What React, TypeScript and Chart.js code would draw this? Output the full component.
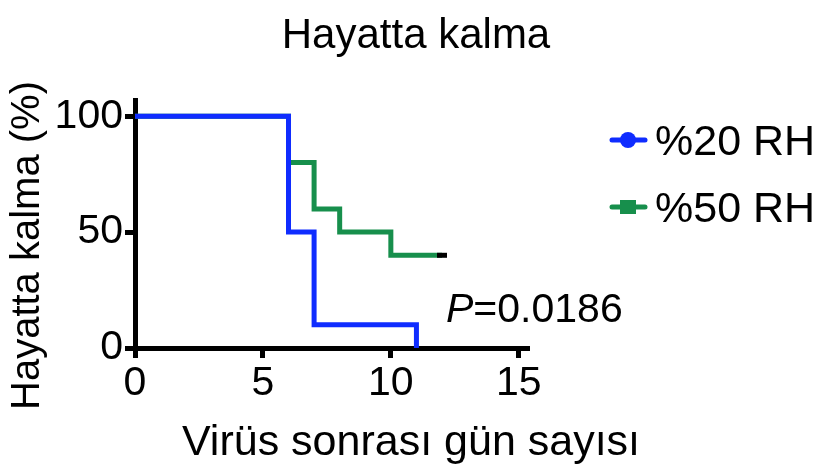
import React, { useEffect, useRef } from "react";
import { Chart, registerables } from "chart.js";

Chart.register(...registerables);

const FONT = '"Liberation Sans", Arial, sans-serif';

const chartTitle = "Hayatta kalma";
const xTitle = "Virüs sonrası gün sayısı";
const yTitle = "Hayatta kalma (%)";
const pText = "=0.0186";

const xTicks = [0, 5, 10, 15];
const yTicks = [0, 50, 100];

const seriesNames = ["%20 RH", "%50 RH"];
const seriesColors = ["#0f2cff", "#178f4c"];

const rh20Days = [0, 6, 7, 11];
const rh20Surv = [100, 50, 10, 0];

const rh50Days = [0, 6, 7, 8, 10, 12];
const rh50Surv = [100, 80, 60, 50, 40, 40];

const censorDays = [12];
const censorSurv = [40];

const toPts = (xs: number[], ys: number[]) => xs.map((x, i) => ({ x, y: ys[i] }));

const textPlugin = {
  id: "texts",
  afterDraw(chart: any) {
    const ctx = chart.ctx;
    ctx.save();
    ctx.fillStyle = "#000";
    ctx.textBaseline = "alphabetic";
    ctx.textAlign = "center";
    ctx.font = `42px ${FONT}`;
    ctx.fillText(chartTitle, 416, 48);
    ctx.font = `43px ${FONT}`;
    ctx.fillText(xTitle, 411, 455);
    ctx.save();
    ctx.translate(39, 410);
    ctx.rotate(-Math.PI / 2);
    ctx.textAlign = "left";
    ctx.font = `40px ${FONT}`;
    ctx.fillText(yTitle, 0, 0);
    ctx.restore();
    // P value
    ctx.textAlign = "left";
    ctx.font = `italic 41px ${FONT}`;
    ctx.fillText("P", 446, 322);
    const pw = ctx.measureText("P").width;
    ctx.font = `41px ${FONT}`;
    ctx.fillText(pText, 446 + pw, 322);
    // legend
    const rows = [140, 207];
    rows.forEach((y, i) => {
      const c = seriesColors[i];
      ctx.strokeStyle = c;
      ctx.lineWidth = 5;
      ctx.lineCap = "round";
      ctx.beginPath();
      ctx.moveTo(612, y);
      ctx.lineTo(645, y);
      ctx.stroke();
      ctx.fillStyle = c;
      if (i === 0) {
        ctx.beginPath();
        ctx.arc(628, y, 8, 0, Math.PI * 2);
        ctx.fill();
      } else {
        ctx.fillRect(620, y - 7, 16, 14);
      }
      ctx.fillStyle = "#000";
      ctx.font = `43px ${FONT}`;
      ctx.textAlign = "left";
      ctx.fillText(seriesNames[i], 655, y + 15);
    });
    ctx.restore();
  },
};

export default function App() {
  const ref = useRef<HTMLCanvasElement>(null);
  useEffect(() => {
    if (!ref.current) return;
    const chart = new Chart(ref.current, {
      type: "line",
      data: {
        datasets: [
          {
            label: seriesNames[0],
            data: toPts(rh20Days, rh20Surv),
            borderColor: seriesColors[0],
            borderWidth: 5,
            stepped: true,
            pointRadius: 0,
            fill: false,
          },
          {
            label: "censor",
            data: toPts(censorDays, censorSurv),
            borderColor: "#000",
            showLine: false,
            pointStyle: "line",
            pointRadius: 5,
            pointBorderWidth: 5,
          } as any,
          {
            label: seriesNames[1],
            data: toPts(rh50Days, rh50Surv),
            borderColor: seriesColors[1],
            borderWidth: 5,
            stepped: true,
            pointRadius: 0,
            fill: false,
          },
        ],
      },
      options: {
        responsive: false,
        animation: false,
        layout: { padding: { top: 100, right: 303, left: 0, bottom: 0 } },
        plugins: { legend: { display: false }, tooltip: { enabled: false }, title: { display: false } },
        scales: {
          x: {
            type: "linear",
            min: 0,
            max: 15.4,
            afterBuildTicks: (s: any) => {
              s.ticks = xTicks.map((v) => ({ value: v }));
            },
            afterFit: (s: any) => {
              s.height = 121;
            },
            ticks: { color: "#000", font: { family: FONT, size: 41 }, padding: 1, maxRotation: 0, autoSkip: false },
            grid: { drawOnChartArea: false, drawTicks: true, tickLength: 10, tickWidth: 5, tickColor: "#000", color: "#000" },
            border: { display: true, width: 5, color: "#000" },
          },
          y: {
            type: "linear",
            min: 0,
            max: 107,
            afterBuildTicks: (s: any) => {
              s.ticks = yTicks.map((v) => ({ value: v }));
            },
            afterFit: (s: any) => {
              s.width = 135;
            },
            ticks: { color: "#000", font: { family: FONT, size: 41 }, padding: 2, autoSkip: false },
            grid: { drawOnChartArea: false, drawTicks: true, tickLength: 10, tickWidth: 5, tickColor: "#000", color: "#000" },
            border: { display: true, width: 5, color: "#000" },
          },
        },
      },
      plugins: [textPlugin],
    } as any);
    return () => chart.destroy();
  }, []);
  return (
    <div style={{ position: "absolute", left: 0, top: 0, width: 832, height: 469, background: "#fff" }}>
      <canvas ref={ref} width={832} height={469} style={{ display: "block" }} />
    </div>
  );
}
